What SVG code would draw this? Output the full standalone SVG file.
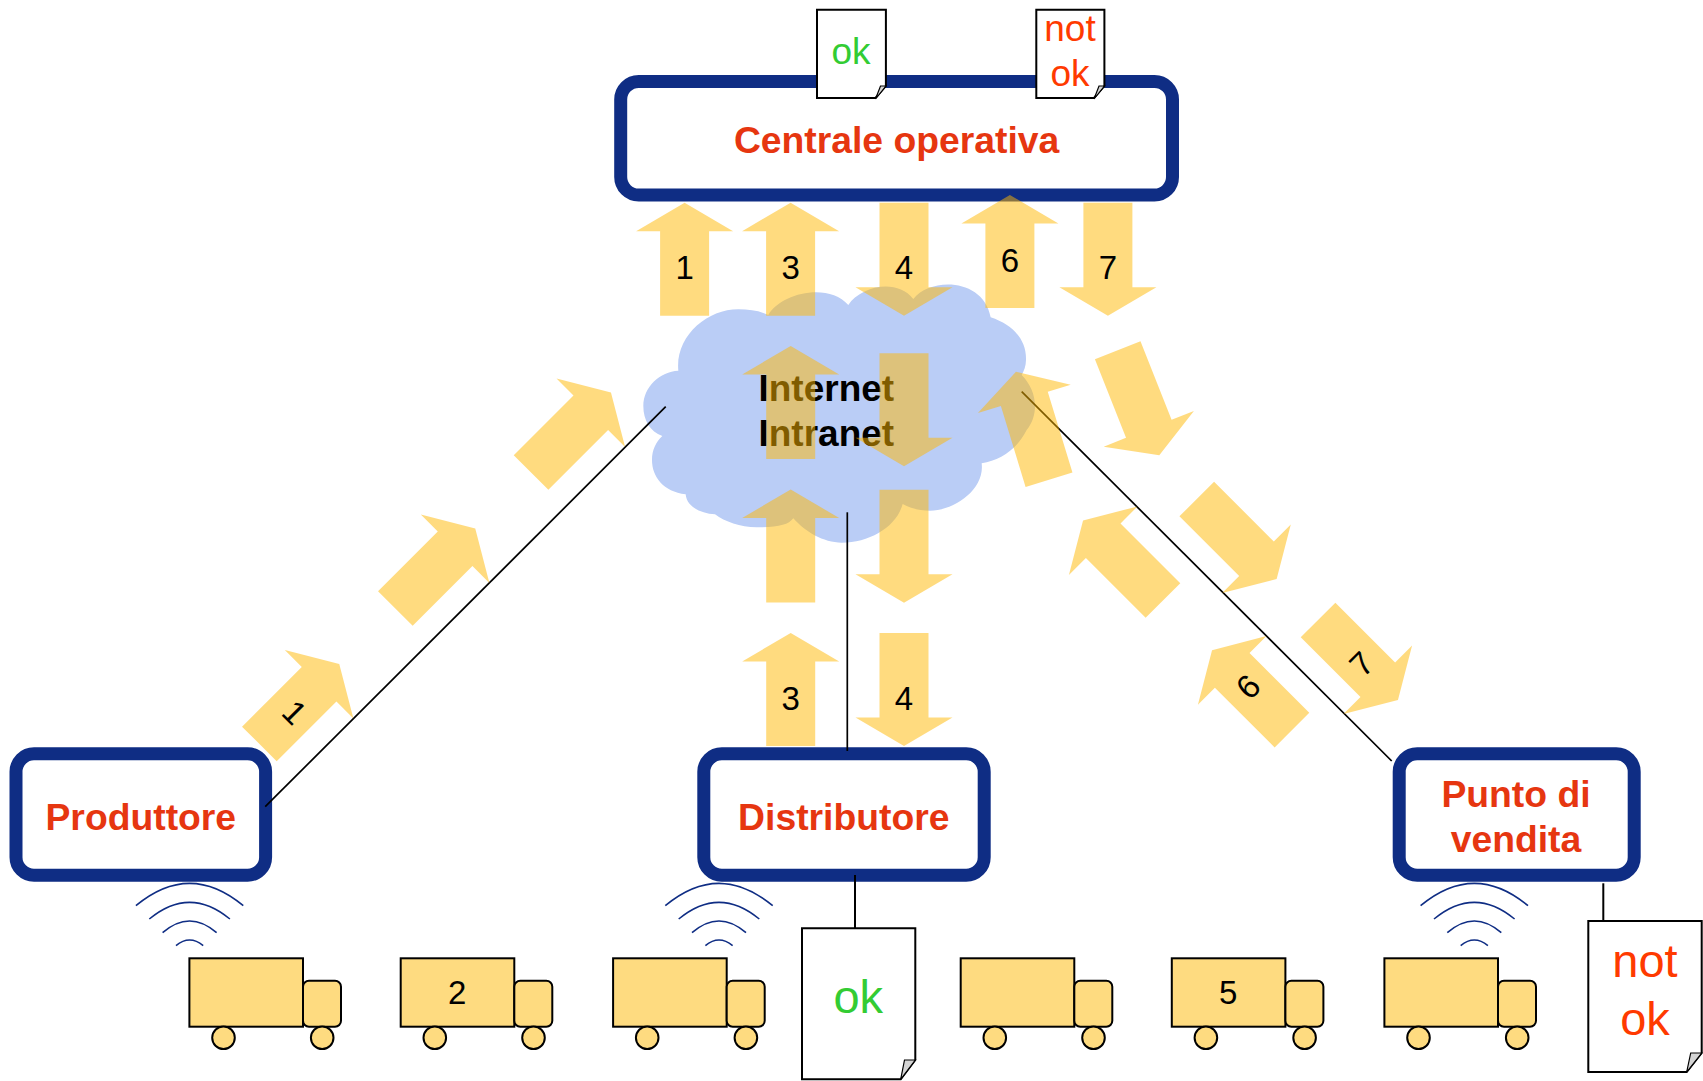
<svg xmlns="http://www.w3.org/2000/svg" xmlns:xlink="http://www.w3.org/1999/xlink" width="1703" height="1081" viewBox="0 0 1703 1081">
<style>
text{font-family:"Liberation Sans",Arial,sans-serif;text-anchor:middle}
.box{fill:#fff;stroke:#0f2d84;stroke-width:13}
.lab{font-size:37.3px;font-weight:bold;fill:#e63610}
.cl{font-size:37px;font-weight:bold;fill:#000}
.num{font-size:33px;fill:#000}
.arrow{fill:#ffb700;fill-opacity:.5}
.wire{stroke:#000;stroke-width:1.7;fill:none}
.wifi{stroke:#0f2d84;stroke-width:1.6;fill:none}
.body{fill:#fedb80;stroke:#000;stroke-width:2}
.doc{fill:#fff;stroke:#000;stroke-width:2}
.fold{fill:#d4d4d4;stroke:#000;stroke-width:1.2}
.ok{fill:#33cc33}
.no{fill:#ff3a00}
.s{font-size:37px}
.b{font-size:47px}
</style>
<defs>
<polygon id="ar" class="arrow" points="0,-56.5 48.5,-28 24.5,-28 24.5,56.5 -24.5,56.5 -24.5,-28 -48.5,-28"/>
<g id="truck">
<rect class="body" x="189.4" y="958.3" width="113.6" height="68.4"/>
<rect class="body" x="303" y="980.7" width="38" height="46" rx="6"/>
<circle class="body" cx="223.5" cy="1037.7" r="11.3"/>
<circle class="body" cx="322.2" cy="1037.7" r="11.3"/>
</g>
<g id="wf">
<path class="wifi" d="M-53.7 905.7Q0 861 53.7 905.7"/>
<path class="wifi" d="M-40.3 919Q0 885.6 40.3 919"/>
<path class="wifi" d="M-27 932.7Q0 909.3 27 932.7"/>
<path class="wifi" d="M-13.6 945.7Q0 934.3 13.6 945.7"/>
</g>
</defs>
<g id="centrale"><rect class="box" x="620.7" y="81.5" width="551.8" height="113.5" rx="18"/><text class="lab" x="896.6" y="152.5">Centrale operativa</text></g>
<g id="produttore"><rect class="box" x="16" y="753.8" width="249.6" height="121.4" rx="18"/><text class="lab" x="140.8" y="830">Produttore</text></g>
<g id="distributore"><rect class="box" x="703.8" y="753.8" width="280.4" height="121.4" rx="18"/><text class="lab" x="843.8" y="830">Distributore</text></g>
<g id="punto"><rect class="box" x="1399.2" y="753.8" width="235" height="121.4" rx="18"/><text class="lab" x="1516" y="807.3">Punto di</text><text class="lab" x="1516" y="851.7">vendita</text></g>
<g id="doc-ok-top"><polygon class="doc" points="817,9.7 885.9,9.7 885.9,86 875.5,98 817,98"/><polygon class="fold" points="880.5,86 885.9,86 875.5,99"/><text class="ok s" x="851" y="63.5">ok</text></g>
<g id="doc-notok-top"><polygon class="doc" points="1036.3,9.7 1104.4,9.7 1104.4,86 1094,98 1036.3,98"/><polygon class="fold" points="1099,86 1104.4,86 1094,99"/><text class="no s" x="1070" y="41">not</text><text class="no s" x="1070" y="86.3">ok</text></g>
<g id="doc-ok"><polygon class="doc" points="802,928.3 915.3,928.3 915.3,1060 900.7,1079.3 802,1079.3"/><polygon class="fold" points="904.5,1060 915.3,1060 900.7,1079.3"/><text class="ok b" x="858.2" y="1013.3">ok</text></g>
<g id="doc-notok"><polygon class="doc" points="1588.3,921 1701.7,921 1701.7,1053 1686.7,1072 1588.3,1072"/><polygon class="fold" points="1690.7,1053 1701.7,1053 1686.7,1072"/><text class="no b" x="1645" y="977.3">not</text><text class="no b" x="1645" y="1035">ok</text></g>
<g id="cloud"><path transform="translate(620 280) scale(.33333)" fill="#bacdf6" d="M175 272C165 170 260 88 355 88C390 88 420 93 445 105C480 40 625 5 685 75C720 20 830 -8 880 57C930 -8 1090 -8 1112 112C1180 135 1220 180 1218 240C1218 258 1212 272 1205 285C1250 330 1260 400 1220 450C1190 510 1140 540 1085 550C1095 630 1000 692 930 692C900 692 870 685 848 672C830 740 750 788 665 788C610 788 555 755 520 715C505 735 475 742 410 742C360 742 315 725 285 703C240 700 200 680 197 643C130 635 96 590 96 540C96 510 108 485 127 468C90 455 70 420 70 378C70 320 120 275 175 272Z"/><text class="cl" x="826.3" y="400.7">Internet</text><text class="cl" x="826.3" y="445.7">Intranet</text></g>
<g id="trucks">
<use href="#truck"/><use href="#truck" x="211.3"/><use href="#truck" x="423.7"/><use href="#truck" x="771.3"/><use href="#truck" x="982.4"/><use href="#truck" x="1195"/>
<text class="num" x="457.3" y="1004.3">2</text><text class="num" x="1228.3" y="1004.3">5</text>
</g>
<g id="wireless"><use href="#wf" x="189.6"/><use href="#wf" x="719"/><use href="#wf" x="1474.3"/></g>
<g id="connectors">
<path class="wire" d="M265.2 806.7L665.7 406.7"/>
<path class="wire" d="M847.3 512.3V751"/>
<path class="wire" d="M1021.7 391.7L1391.7 761"/>
<path class="wire" style="stroke-width:2" d="M855 875V928"/>
<path class="wire" style="stroke-width:2" d="M1603.3 883.3V921"/>
<use href="#ar" transform="translate(684.6 259.2)"/>
<use href="#ar" transform="translate(790.6 259.2)"/>
<use href="#ar" transform="translate(904 259.2) rotate(180)"/>
<use href="#ar" transform="translate(1009.9 251.5)"/>
<use href="#ar" transform="translate(1107.9 259.2) rotate(180)"/>
<use href="#ar" transform="translate(790.7 402.5)"/>
<use href="#ar" transform="translate(904 409.8) rotate(180)"/>
<use href="#ar" transform="translate(790.7 546)"/>
<use href="#ar" transform="translate(904 546.2) rotate(180)"/>
<use href="#ar" transform="translate(790.7 689.5)"/>
<use href="#ar" transform="translate(904 689.5) rotate(180)"/>
<use href="#ar" transform="translate(299.3 704) rotate(45)"/>
<use href="#ar" transform="translate(435.3 568.5) rotate(45)"/>
<use href="#ar" transform="translate(571 432.5) rotate(45)"/>
<use href="#ar" transform="translate(1358 660) rotate(135)"/>
<use href="#ar" transform="translate(1236.7 539) rotate(135)"/>
<use href="#ar" transform="translate(1138.5 402.8) rotate(158.4)"/>
<use href="#ar" transform="translate(1252 690.2) rotate(-45)"/>
<use href="#ar" transform="translate(1123 560.5) rotate(-45)"/>
<use href="#ar" transform="translate(1032.5 425.7) rotate(-17)"/>
<text class="num" x="684.6" y="279">1</text>
<text class="num" x="790.6" y="279">3</text>
<text class="num" x="904" y="279">4</text>
<text class="num" x="1009.9" y="272">6</text>
<text class="num" x="1107.9" y="279">7</text>
<text class="num" x="790.6" y="709.5">3</text>
<text class="num" x="904" y="709.5">4</text>
<text class="num" transform="translate(294.7 712.3) rotate(45)" y="11.5">1</text>
<text class="num" transform="translate(1248 686.7) rotate(-45)" y="11.5">6</text>
<text class="num" transform="translate(1361.7 664) rotate(-45)" y="11.5">7</text>
</g>
</svg>
